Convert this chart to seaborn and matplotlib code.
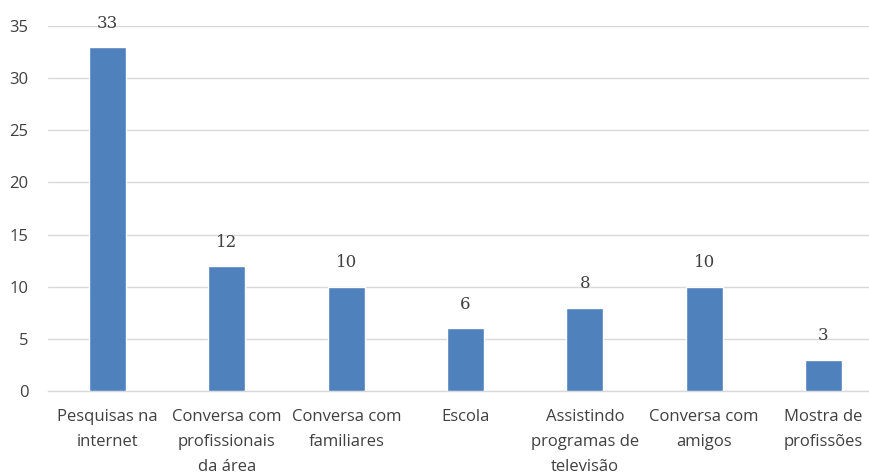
import matplotlib
matplotlib.use("Agg")
import matplotlib.pyplot as plt
import seaborn as sns
import pandas as pd

categories = [
    "Pesquisas na\ninternet",
    "Conversa com\nprofissionais\nda área",
    "Conversa com\nfamiliares",
    "Escola",
    "Assistindo\nprogramas de\ntelevisão",
    "Conversa com\namigos",
    "Mostra de\nprofissões",
]
values = [33, 12, 10, 6, 8, 10, 3]
y_ticks = [0, 5, 10, 15, 20, 25, 30, 35]

df = pd.DataFrame({"categoria": categories, "valor": values})

sns.set_theme(style="white")
plt.rcParams["font.family"] = ["Open Sans", "DejaVu Sans"]

fig = plt.figure(figsize=(8.69, 4.73), dpi=100)
W, H = 869, 473
step = 119.3
ax = fig.add_axes([48 / W, (H - 391) / H, 7 * step / W, 365 / H])

sns.barplot(data=df, x="categoria", y="valor", color="#4F81BD",
            width=0.31, saturation=1, ax=ax, zorder=3)

ax.set_ylim(0, 35)
ax.set_xlim(-0.5, len(categories) - 0.5)
ax.set_yticks(y_ticks)
ax.yaxis.grid(True, color="#D9D9D9", linewidth=1, zorder=0)
ax.set_xlabel("")
ax.set_ylabel("")
for s in ["top", "right", "left"]:
    ax.spines[s].set_visible(False)
ax.spines["bottom"].set_color("#D9D9D9")
ax.spines["bottom"].set_linewidth(1)
ax.tick_params(axis="both", length=0, colors="#404040", labelsize=12)
ax.tick_params(axis="y", pad=14)
ax.tick_params(axis="x", pad=13)
for lbl in ax.get_xticklabels():
    lbl.set_linespacing(1.74)
    lbl.set_verticalalignment("top")

for container in ax.containers:
    ax.bar_label(container, labels=[str(v) for v in values], padding=11,
                 fontsize=12, color="#404040", family="DejaVu Serif")

fig.savefig("out.png", dpi=100)
